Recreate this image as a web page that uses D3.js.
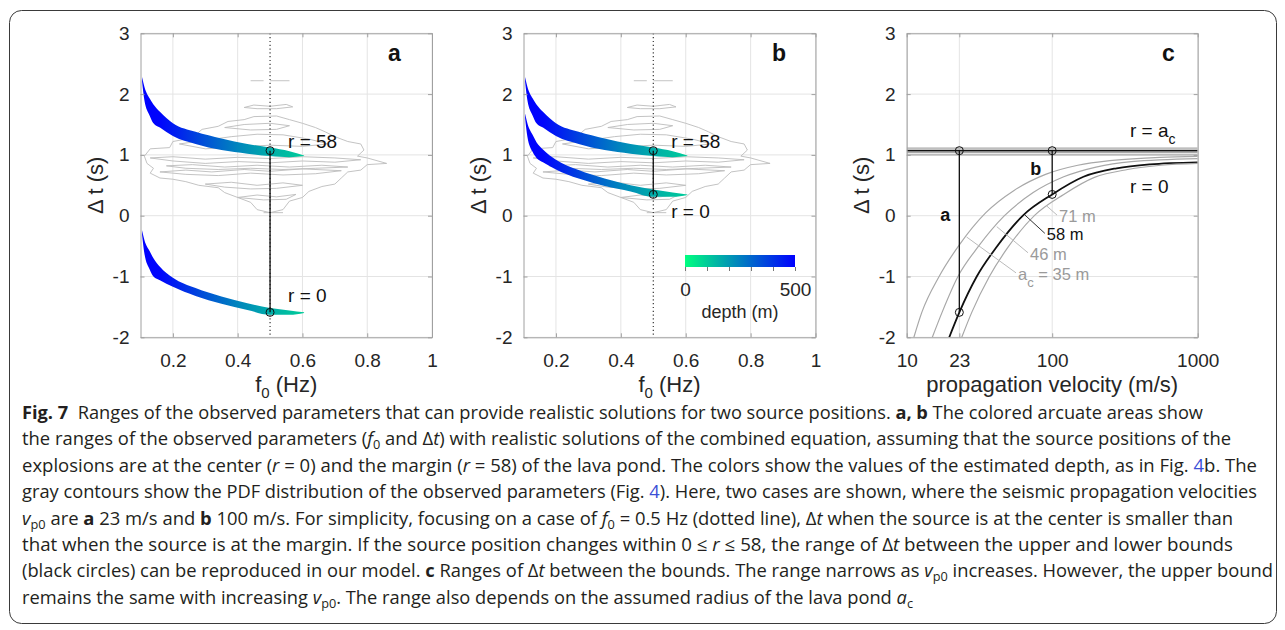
<!DOCTYPE html>
<html>
<head>
<meta charset="utf-8">
<script src="https://cdn.jsdelivr.net/npm/d3@7"></script>
<style>
  body { margin: 0; background: #fff; }
</style>
</head>
<body>
<script>
// ---------- data ----------
const fTicks = [0.2, 0.4, 0.6, 0.8, 1];
const dtTicks = [-2, -1, 0, 1, 2, 3];
const vTicks = [10, 23, 100, 1000];
const depthTicks = [0, 100, 200, 300, 400, 500];
const depthLabels = [0, 500];

// arcuate bands (f0 in Hz, delta t in s)
const fBand = [0.105, 0.112, 0.128, 0.14, 0.16, 0.2, 0.27, 0.35, 0.43, 0.5, 0.56, 0.605];
const marginTop = [2.28, 2.12, 1.93, 1.83, 1.71, 1.52, 1.38, 1.27, 1.18, 1.12, 1.06, 0.99];
const marginBot = [2.20, 1.90, 1.65, 1.52, 1.45, 1.31, 1.18, 1.08, 1.02, 0.98, 0.96, 0.98];
const centerTopA = [-0.24, -0.40, -0.58, -0.70, -0.84, -1.02, -1.19, -1.33, -1.44, -1.52, -1.56, -1.59];
const centerBotA = [-0.32, -0.62, -0.88, -1.00, -1.06, -1.17, -1.32, -1.45, -1.55, -1.63, -1.63, -1.60];
const centerTopB = [1.68, 1.52, 1.33, 1.21, 1.09, 0.92, 0.75, 0.61, 0.50, 0.43, 0.38, 0.35];
const centerBotB = [1.60, 1.30, 1.05, 0.95, 0.88, 0.76, 0.61, 0.49, 0.40, 0.31, 0.31, 0.34];

// depth (m) along the bands
const fDepth = [0.105, 0.16, 0.22, 0.3, 0.4, 0.5, 0.605];
const depthAlong = [500, 490, 430, 340, 240, 160, 100];

// bounds at f0 = 0.5 Hz
const focusF = 0.5;
const boundsA = [1.07, -1.59];
const boundsB = [1.07, 0.35];

// PDF contours of observed parameters [f0, dt]
const pdfOuter = [[0.112,0.98],[0.13,1.1],[0.19,1.12],[0.2,1.22],[0.26,1.28],[0.29,1.42],[0.34,1.47],[0.37,1.55],[0.42,1.58],[0.45,1.63],[0.52,1.64],[0.56,1.58],[0.6,1.52],[0.64,1.45],[0.67,1.38],[0.7,1.3],[0.74,1.22],[0.78,1.18],[0.79,1.08],[0.77,0.98],[0.8,0.95],[0.86,0.86],[0.8,0.84],[0.78,0.75],[0.74,0.72],[0.72,0.62],[0.7,0.52],[0.66,0.48],[0.62,0.4],[0.6,0.3],[0.56,0.24],[0.54,0.1],[0.5,0.05],[0.46,0.1],[0.44,0.22],[0.4,0.3],[0.36,0.38],[0.34,0.46],[0.28,0.5],[0.24,0.56],[0.2,0.6],[0.16,0.62],[0.13,0.7],[0.14,0.78],[0.12,0.86],[0.112,0.98]];
const pdfUpper = [[0.22,1.18],[0.3,1.24],[0.38,1.3],[0.46,1.34],[0.54,1.33],[0.62,1.26],[0.68,1.18],[0.6,1.14],[0.5,1.16],[0.4,1.13],[0.3,1.1],[0.22,1.18]];
const pdfCap = [[0.36,1.45],[0.42,1.5],[0.5,1.52],[0.56,1.48],[0.52,1.42],[0.44,1.41],[0.36,1.45]];
const pdfStripe1 = [[0.13,0.95],[0.2,0.97],[0.3,0.93],[0.4,0.96],[0.5,0.94],[0.6,0.97],[0.7,0.95],[0.78,0.92],[0.7,0.88],[0.6,0.9],[0.5,0.87],[0.4,0.89],[0.3,0.86],[0.2,0.9],[0.13,0.95]];
const pdfStripe2 = [[0.16,0.72],[0.24,0.75],[0.32,0.72],[0.42,0.76],[0.5,0.73],[0.6,0.77],[0.72,0.74],[0.64,0.69],[0.54,0.67],[0.44,0.7],[0.34,0.66],[0.24,0.68],[0.16,0.72]];
const pdfStripe3 = [[0.3,0.52],[0.38,0.55],[0.46,0.5],[0.54,0.54],[0.6,0.5],[0.52,0.45],[0.44,0.44],[0.36,0.47],[0.3,0.52]];
const pdfStripe4 = [[0.18,0.82],[0.26,0.84],[0.36,0.8],[0.46,0.83],[0.56,0.8],[0.66,0.83],[0.74,0.8],[0.64,0.78],[0.54,0.76],[0.44,0.78],[0.34,0.76],[0.24,0.78],[0.18,0.82]];
const pdfStripe5 = [[0.4,0.3],[0.46,0.34],[0.52,0.31],[0.58,0.35],[0.55,0.27],[0.48,0.26],[0.4,0.3]];
const pdfIsland = [[0.42,1.78],[0.45,1.82],[0.5,1.8],[0.55,1.83],[0.57,1.79],[0.52,1.76],[0.46,1.76],[0.42,1.78]];
const pdfDashL = [[0.44,2.22],[0.48,2.22]];
const pdfDashR = [[0.5,2.22],[0.56,2.22]];
const pdfDashLow = [[0.48,0.05],[0.54,0.05]];

// panel c: r = 0 curves for pond radius a_c (velocity m/s, dt s)
const acRadii = [35, 46, 58, 71];
const acUpper = [1.0, 1.036, 1.07, 1.11];
const v35 = [11.2, 12.7, 16.7, 23, 35, 55, 90, 150, 260, 550, 1000];
const dt35 = [-2.0, -1.59, -1.0, -0.48, 0.05, 0.42, 0.68, 0.83, 0.91, 0.96, 0.975];
const v46 = [15.0, 17.5, 22.5, 31, 47, 74, 120, 200, 350, 1000];
const dt46 = [-2.0, -1.59, -1.0, -0.51, 0.0, 0.38, 0.64, 0.8, 0.89, 0.94];
const v58 = [19.6, 23, 30.3, 41.6, 63.4, 100, 164, 277, 470, 1000];
const dt58 = [-2.0, -1.59, -1.0, -0.51, 0.01, 0.35, 0.64, 0.78, 0.845, 0.878];
const v71 = [23.9, 28, 37, 50, 76, 120, 195, 330, 560, 1000];
const dt71 = [-2.0, -1.59, -1.0, -0.51, 0.01, 0.35, 0.63, 0.76, 0.83, 0.86];
const vCases = [23, 100];
// leader lines: start on curve, end at label
const leaderFrom = [[25.8, -0.35], [41.6, -0.18], [65, 0.01], [91.7, 0.16]];
const leaderTo = [[56.4, -0.94], [68.2, -0.61], [89, -0.29], [107.9, 0.01]];

// caption
const captionLines = [
  [["Fig. 7", "b"], ["  Ranges of the observed parameters that can provide realistic solutions for two source positions. ", ""], ["a, b", "b"], [" The colored arcuate areas show", ""]],
  [["the ranges of the observed parameters (", ""], ["f", "i"], ["0", "sub"], [" and Δ", ""], ["t", "i"], [") with realistic solutions of the combined equation, assuming that the source positions of the", ""]],
  [["explosions are at the center (", ""], ["r", "i"], [" = 0) and the margin (", ""], ["r", "i"], [" = 58) of the lava pond. The colors show the values of the estimated depth, as in Fig. ", ""], ["4", "link"], ["b. The", ""]],
  [["gray contours show the PDF distribution of the observed parameters (Fig. ", ""], ["4", "link"], ["). Here, two cases are shown, where the seismic propagation velocities", ""]],
  [["v", "i"], ["p0", "sub"], [" are ", ""], ["a", "b"], [" 23 m/s and ", ""], ["b", "b"], [" 100 m/s. For simplicity, focusing on a case of ", ""], ["f", "i"], ["0", "sub"], [" = 0.5 Hz (dotted line), Δ", ""], ["t", "i"], [" when the source is at the center is smaller than", ""]],
  [["that when the source is at the margin. If the source position changes within 0 ≤ ", ""], ["r", "i"], [" ≤ 58, the range of Δ", ""], ["t", "i"], [" between the upper and lower bounds", ""]],
  [["(black circles) can be reproduced in our model. ", ""], ["c", "b"], [" Ranges of Δ", ""], ["t", "i"], [" between the bounds. The range narrows as ", ""], ["v", "i"], ["p0", "sub"], [" increases. However, the upper bound", ""]],
  [["remains the same with increasing ", ""], ["v", "i"], ["p0", "sub"], [". The range also depends on the assumed radius of the lava pond ", ""], ["a", "i"], ["c", "sub"]]
];
const captionEnds = [1203, 1231, 1257, 1257, 1233, 1233, 1273, 913];

// ---------- layout ----------
const W = 1285, H = 630;
const font = "'Liberation Sans', Arial, Helvetica, sans-serif";
const ink = "#262626", boxGray = "#a0a0a0", gridGray = "#e4e4e4", contourGray = "#bcbcbc";
const plotTop = 33.3, plotBot = 337.3;

const svg = d3.select("body").append("svg")
    .attr("width", W).attr("height", H)
    .style("font-family", font);

// outer frame
svg.append("rect")
    .attr("x", 9.5).attr("y", 10.5)
    .attr("width", 1267).attr("height", 613)
    .attr("rx", 12)
    .attr("fill", "none").attr("stroke", "#3a3a3a").attr("stroke-width", 1);

const y = d3.scaleLinear().domain([-2, 3]).range([plotBot, plotTop]);
const xa = d3.scaleLinear().domain([0.1, 1]).range([140.5, 432]);
const xb = d3.scaleLinear().domain([0.1, 1]).range([523.5, 815.5]);
const xc = d3.scaleLog().domain([10, 1000]).range([906.7, 1197.7]);
const depthColor = d3.scaleLinear().domain([0, 500]).range(["#00ff80", "#0000ff"]);

const defs = svg.append("defs");

function grid(x, ticksX) {
    const g = svg.append("g");
    const [l, r] = x.range();
    g.selectAll(".gx").data(ticksX).join("line")
        .attr("x1", d => x(d)).attr("x2", d => x(d))
        .attr("y1", plotTop).attr("y2", plotBot)
        .attr("stroke", gridGray);
    g.selectAll(".gy").data(dtTicks).join("line")
        .attr("x1", l).attr("x2", r)
        .attr("y1", d => y(d)).attr("y2", d => y(d))
        .attr("stroke", gridGray);
}

function styleAxis(sel) {
    sel.select(".domain").attr("stroke", boxGray);
    sel.selectAll(".tick line").attr("stroke", boxGray);
    sel.selectAll("text").attr("fill", ink).attr("font-size", 19).attr("font-family", font);
}

function axes(x, ticksX) {
    const g = svg.append("g");
    const [l, r] = x.range();
    g.append("g").attr("transform", `translate(0,${plotBot})`)
        .call(d3.axisBottom(x).tickValues(ticksX).tickFormat(d => String(d)).tickSize(-4).tickSizeOuter(0).tickPadding(16))
        .call(styleAxis);
    g.append("g").attr("transform", `translate(0,${plotTop})`)
        .call(d3.axisTop(x).tickValues(ticksX).tickFormat("").tickSize(-4).tickSizeOuter(0))
        .call(styleAxis);
    g.append("g").attr("transform", `translate(${l},0)`)
        .call(d3.axisLeft(y).tickValues(dtTicks).tickFormat(d => String(d)).tickSize(-4).tickSizeOuter(0).tickPadding(11))
        .call(styleAxis);
    g.append("g").attr("transform", `translate(${r},0)`)
        .call(d3.axisRight(y).tickValues(dtTicks).tickFormat("").tickSize(-4).tickSizeOuter(0))
        .call(styleAxis);
}

function clip(id, x) {
    const [l, r] = x.range();
    defs.append("clipPath").attr("id", id)
        .append("rect").attr("x", l).attr("y", plotTop).attr("width", r - l).attr("height", plotBot - plotTop);
    return svg.append("g").attr("clip-path", `url(#${id})`);
}

function yLabel(xPos) {
    svg.append("text")
        .attr("transform", `translate(${xPos},${(plotTop + plotBot) / 2}) rotate(-90)`)
        .attr("text-anchor", "middle")
        .attr("font-size", 22).attr("fill", ink)
        .text("Δ t (s)");
}

function xLabelF(x) {
    const t = svg.append("text")
        .attr("x", d3.mean(x.range())).attr("y", 392)
        .attr("text-anchor", "middle")
        .attr("font-size", 22).attr("fill", ink);
    t.append("tspan").text("f");
    t.append("tspan").attr("dy", 6).attr("font-size", 15).text("0");
    t.append("tspan").attr("dy", -6).text(" (Hz)");
}

function panelLetter(xPos, s) {
    svg.append("text").attr("x", xPos).attr("y", 61)
        .attr("font-size", 23).attr("font-weight", "bold").attr("fill", "#111")
        .text(s);
}

const contours = [pdfOuter, pdfUpper, pdfCap, pdfStripe1, pdfStripe2, pdfStripe3, pdfStripe4, pdfStripe5, pdfIsland, pdfDashL, pdfDashR, pdfDashLow];

function fPanel(id, x, centerTop, centerBot, bounds, lowOffset) {
    grid(x, fTicks);
    const g = clip("clip-" + id, x);

    // gray PDF contours
    const line = d3.line().x(d => x(d[0])).y(d => y(d[1]));
    g.selectAll(".pdf").data(contours).join("path")
        .attr("d", line)
        .attr("fill", "none").attr("stroke", contourGray).attr("stroke-width", 0.9);

    // dotted line at f0 = 0.5
    g.append("line")
        .attr("x1", x(focusF)).attr("x2", x(focusF))
        .attr("y1", plotTop).attr("y2", plotBot)
        .attr("stroke", "#222").attr("stroke-width", 1.1)
        .attr("stroke-dasharray", "1.2,2.6");

    // depth gradient
    const grad = defs.append("linearGradient").attr("id", "grad-" + id)
        .attr("gradientUnits", "userSpaceOnUse")
        .attr("x1", x(fDepth[0])).attr("x2", x(fDepth[fDepth.length - 1]))
        .attr("y1", 0).attr("y2", 0);
    const span = x(fDepth[fDepth.length - 1]) - x(fDepth[0]);
    grad.selectAll("stop").data(fDepth).join("stop")
        .attr("offset", d => (x(d) - x(fDepth[0])) / span)
        .attr("stop-color", (d, i) => depthColor(depthAlong[i]));

    const area = d3.area()
        .x(d => x(d.f)).y0(d => y(d.bot)).y1(d => y(d.top))
        .curve(d3.curveMonotoneX);
    const bands = [
        fBand.map((f, i) => ({ f, top: marginTop[i], bot: marginBot[i] })),
        fBand.map((f, i) => ({ f, top: centerTop[i], bot: centerBot[i] }))
    ];
    g.selectAll(".band").data(bands).join("path")
        .attr("d", area)
        .attr("fill", `url(#grad-${id})`);

    // range between bounds
    g.append("line")
        .attr("x1", x(focusF)).attr("x2", x(focusF))
        .attr("y1", y(bounds[0])).attr("y2", y(bounds[1]))
        .attr("stroke", "#111").attr("stroke-width", 1.3);
    g.selectAll(".bound").data(bounds).join("circle")
        .attr("cx", x(focusF)).attr("cy", d => y(d)).attr("r", 4)
        .attr("fill", "none").attr("stroke", "#111").attr("stroke-width", 1);

    svg.append("text").attr("x", x(focusF) + 18).attr("y", y(bounds[0]) - 3)
        .attr("font-size", 19).attr("fill", "#111").text("r = 58");
    svg.append("text").attr("x", x(focusF) + 18).attr("y", y(bounds[1]) + lowOffset)
        .attr("font-size", 19).attr("fill", "#111").text("r = 0");

    axes(x, fTicks);
    xLabelF(x);
}

// ---------- panel a ----------
fPanel("a", xa, centerTopA, centerBotA, boundsA, -10);
yLabel(103);
panelLetter(388, "a");

// ---------- panel b ----------
fPanel("b", xb, centerTopB, centerBotB, boundsB, 24);
yLabel(486);
panelLetter(772, "b");

// colorbar
const xcb = d3.scaleLinear().domain([0, 500]).range([685, 795]);
const cbGrad = defs.append("linearGradient").attr("id", "cb-grad");
cbGrad.selectAll("stop").data(depthTicks).join("stop")
    .attr("offset", d => d / 500)
    .attr("stop-color", d => depthColor(d));
svg.append("rect")
    .attr("x", xcb(0)).attr("y", 255)
    .attr("width", xcb(500) - xcb(0)).attr("height", 12)
    .attr("fill", "url(#cb-grad)");
svg.append("g").attr("transform", "translate(0,267)")
    .call(d3.axisBottom(xcb).tickValues(depthTicks)
        .tickFormat(d => depthLabels.includes(d) ? String(d) : "")
        .tickSize(4).tickSizeOuter(0).tickPadding(12))
    .call(sel => {
        sel.select(".domain").remove();
        sel.selectAll(".tick line").attr("stroke", "#777");
        sel.selectAll("text").attr("fill", ink).attr("font-size", 19).attr("font-family", font);
    });
svg.append("text").attr("x", d3.mean(xcb.range())).attr("y", 318)
    .attr("text-anchor", "middle").attr("font-size", 18).attr("fill", ink)
    .text("depth (m)");

// ---------- panel c ----------
grid(xc, vTicks);
const gc = clip("clip-c", xc);
const vLine = d3.line().x(d => xc(d[0])).y(d => y(d[1])).curve(d3.curveMonotoneX);
const curves = [
    { v: v35, dt: dt35, key: 35 },
    { v: v46, dt: dt46, key: 46 },
    { v: v58, dt: dt58, key: 58 },
    { v: v71, dt: dt71, key: 71 }
];
// upper bound lines r = a_c
gc.selectAll(".upper").data(acRadii.map((a, i) => ({ a, dt: acUpper[i] })))
    .join("line")
    .attr("x1", xc(10)).attr("x2", xc(1000))
    .attr("y1", d => y(d.dt)).attr("y2", d => y(d.dt))
    .attr("stroke", d => d.a === 58 ? "#111" : "#a8a8a8")
    .attr("stroke-width", d => d.a === 58 ? 1.8 : 1.2);
gc.selectAll(".rzero").data(curves).join("path")
    .attr("d", c => vLine(c.v.map((v, i) => [v, c.dt[i]])))
    .attr("fill", "none")
    .attr("stroke", c => c.key === 58 ? "#111" : "#a8a8a8")
    .attr("stroke-width", c => c.key === 58 ? 1.8 : 1.2);

// leader lines
gc.selectAll(".leader").data(acRadii).join("line")
    .attr("x1", (d, i) => xc(leaderFrom[i][0])).attr("y1", (d, i) => y(leaderFrom[i][1]))
    .attr("x2", (d, i) => xc(leaderTo[i][0])).attr("y2", (d, i) => y(leaderTo[i][1]))
    .attr("stroke", d => d === 58 ? "#333" : "#bbb").attr("stroke-width", 1);

// bounds at each velocity case
const boundsC = [boundsA, boundsB];
vCases.forEach((v, k) => {
    gc.append("line")
        .attr("x1", xc(v)).attr("x2", xc(v))
        .attr("y1", y(boundsC[k][0])).attr("y2", y(boundsC[k][1]))
        .attr("stroke", "#111").attr("stroke-width", 1.3);
    gc.selectAll(".bc" + k).data(boundsC[k]).join("circle")
        .attr("cx", xc(v)).attr("cy", d => y(d)).attr("r", 4)
        .attr("fill", "none").attr("stroke", "#111").attr("stroke-width", 1);
});

axes(xc, vTicks);
yLabel(869);
panelLetter(1162, "c");
svg.append("text").attr("x", d3.mean(xc.range())).attr("y", 392)
    .attr("text-anchor", "middle").attr("font-size", 22).attr("fill", ink)
    .text("propagation velocity (m/s)");

// curve labels
const labelCol = d => d === 58 ? "#111" : "#9a9a9a";
acRadii.forEach((a, i) => {
    const t = svg.append("text")
        .attr("x", xc(leaderTo[i][0]) + 2).attr("y", y(leaderTo[i][1]) + 7)
        .attr("font-size", 16.5).attr("fill", labelCol(a));
    if (a === 35) {
        t.append("tspan").text("a");
        t.append("tspan").attr("dy", 7).attr("font-size", 13).text("c");
        t.append("tspan").attr("dy", -7).text(" = 35 m");
    } else {
        t.text(a + " m");
    }
});

// r = a_c and r = 0 labels
const ra = svg.append("text").attr("x", 1130).attr("y", 137)
    .attr("font-size", 19).attr("fill", "#111");
ra.append("tspan").text("r = a");
ra.append("tspan").attr("dy", 7).attr("font-size", 14).text("c");
svg.append("text").attr("x", 1130).attr("y", 193)
    .attr("font-size", 19).attr("fill", "#111").text("r = 0");
svg.append("text").attr("x", xc(vCases[0]) - 19).attr("y", 221)
    .attr("font-size", 18).attr("font-weight", "bold").attr("fill", "#111").text("a");
svg.append("text").attr("x", xc(vCases[1]) - 22).attr("y", 175)
    .attr("font-size", 18).attr("font-weight", "bold").attr("fill", "#111").text("b");

// ---------- caption ----------
const capX = 22, capY0 = 419, capDy = 26.4;
captionLines.forEach((segs, i) => {
    const t = svg.append("text")
        .attr("x", capX).attr("y", capY0 + i * capDy)
        .attr("font-family", "'Open Sans', 'Noto Sans', sans-serif")
        .attr("font-size", 18).attr("fill", "#231f20")
        .attr("textLength", captionEnds[i] - capX)
        .attr("lengthAdjust", "spacingAndGlyphs")
        .style("white-space", "pre");
    let shifted = false;
    segs.forEach(([s, st]) => {
        const ts = t.append("tspan").text(s);
        if (st === "b") ts.attr("font-weight", "bold");
        if (st === "i") ts.attr("font-style", "italic");
        if (st === "link") ts.attr("fill", "#3b4fd6");
        if (st === "sub") { ts.attr("dy", 4).attr("font-size", 12.5).attr("font-style", "normal"); shifted = true; }
        else if (shifted) { ts.attr("dy", -4); shifted = false; }
    });
});
</script>
</body>
</html>
